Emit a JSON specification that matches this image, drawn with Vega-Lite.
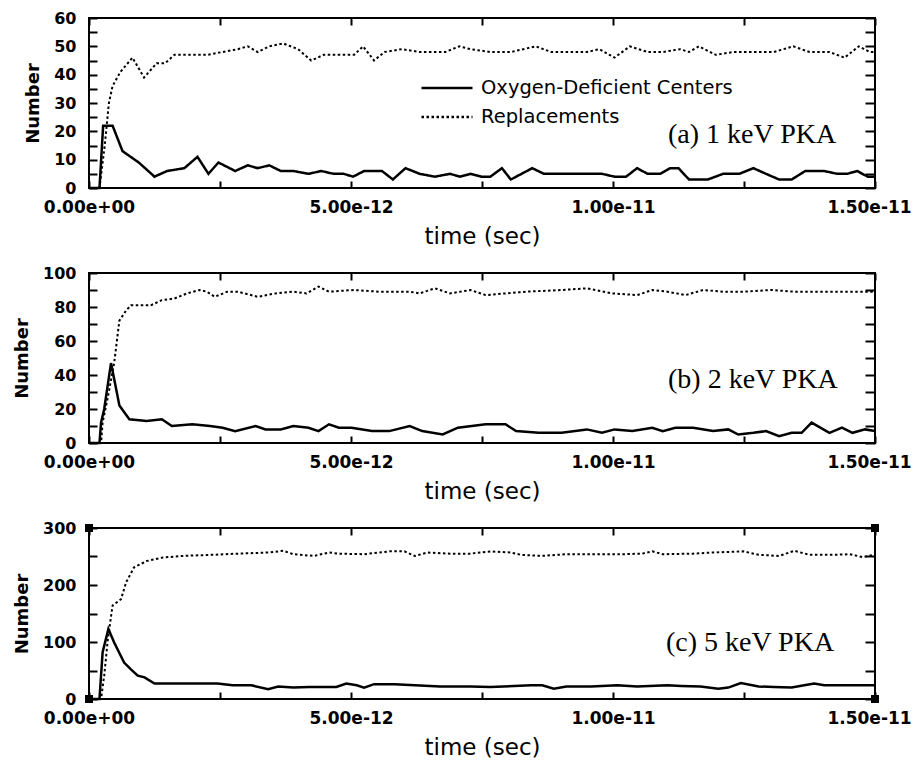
{
  "$schema": "https://vega.github.io/schema/vega-lite/v6.json",
  "background": "white",
  "padding": {"left": 12, "top": 9, "right": 0, "bottom": 10},
  "bounds": "flush",
  "spacing": 85,
  "datasets": {
    "p1odc": [
      {"t":0,"number":0},{"t":0.2,"number":0},{"t":0.27,"number":22},{"t":0.45,"number":22},{"t":0.64,"number":13},{"t":0.95,"number":9},{"t":1.25,"number":4},{"t":1.49,"number":6},{"t":1.82,"number":7},{"t":2.07,"number":11},{"t":2.28,"number":5},{"t":2.47,"number":9},{"t":2.79,"number":6},{"t":3.03,"number":8},{"t":3.22,"number":7},{"t":3.44,"number":8},{"t":3.66,"number":6},{"t":3.9,"number":6},{"t":4.19,"number":5},{"t":4.43,"number":6},{"t":4.67,"number":5},{"t":4.86,"number":5},{"t":5.04,"number":4},{"t":5.25,"number":6},{"t":5.59,"number":6},{"t":5.8,"number":3},{"t":6.04,"number":7},{"t":6.31,"number":5},{"t":6.6,"number":4},{"t":6.89,"number":5},{"t":7.08,"number":4},{"t":7.28,"number":5},{"t":7.49,"number":4},{"t":7.66,"number":4},{"t":7.88,"number":7},{"t":8.05,"number":3},{"t":8.46,"number":7},{"t":8.68,"number":5},{"t":8.97,"number":5},{"t":9.31,"number":5},{"t":9.59,"number":5},{"t":9.79,"number":5},{"t":10.03,"number":4},{"t":10.25,"number":4},{"t":10.46,"number":7},{"t":10.66,"number":5},{"t":10.9,"number":5},{"t":11.09,"number":7},{"t":11.25,"number":7},{"t":11.45,"number":3},{"t":11.81,"number":3},{"t":12.1,"number":5},{"t":12.41,"number":5},{"t":12.68,"number":7},{"t":12.92,"number":5},{"t":13.17,"number":3},{"t":13.41,"number":3},{"t":13.67,"number":6},{"t":13.84,"number":6},{"t":14.03,"number":6},{"t":14.28,"number":5},{"t":14.47,"number":5},{"t":14.66,"number":6},{"t":14.86,"number":4},{"t":15,"number":4}
    ],
    "p1rep": [
      {"t":0,"number":0},{"t":0.2,"number":0},{"t":0.3,"number":15},{"t":0.38,"number":30},{"t":0.45,"number":36},{"t":0.6,"number":41},{"t":0.83,"number":46},{"t":1.05,"number":39},{"t":1.29,"number":44},{"t":1.45,"number":44},{"t":1.63,"number":47},{"t":2.26,"number":47},{"t":2.55,"number":48},{"t":2.84,"number":49},{"t":3.03,"number":50},{"t":3.22,"number":48},{"t":3.44,"number":50},{"t":3.71,"number":51},{"t":3.99,"number":49},{"t":4.24,"number":45},{"t":4.48,"number":47},{"t":4.86,"number":47},{"t":5.06,"number":47},{"t":5.23,"number":50},{"t":5.44,"number":45},{"t":5.64,"number":48},{"t":5.97,"number":49},{"t":6.31,"number":48},{"t":6.8,"number":48},{"t":7.07,"number":50},{"t":7.28,"number":49},{"t":7.66,"number":48},{"t":8.05,"number":48},{"t":8.53,"number":50},{"t":8.82,"number":48},{"t":9.5,"number":48},{"t":9.74,"number":49},{"t":10.03,"number":46},{"t":10.32,"number":50},{"t":10.66,"number":48},{"t":10.95,"number":48},{"t":11.28,"number":49},{"t":11.45,"number":48},{"t":11.64,"number":50},{"t":11.96,"number":47},{"t":12.3,"number":48},{"t":12.59,"number":48},{"t":13.07,"number":48},{"t":13.44,"number":50},{"t":13.75,"number":48},{"t":14.13,"number":48},{"t":14.42,"number":46},{"t":14.69,"number":50},{"t":14.9,"number":48},{"t":15,"number":48}
    ],
    "p2odc": [
      {"t":0,"number":0},{"t":0.2,"number":0},{"t":0.23,"number":12},{"t":0.29,"number":20},{"t":0.42,"number":47},{"t":0.58,"number":22},{"t":0.77,"number":14},{"t":1.1,"number":13},{"t":1.39,"number":14},{"t":1.58,"number":10},{"t":1.97,"number":11},{"t":2.31,"number":10},{"t":2.55,"number":9},{"t":2.79,"number":7},{"t":3.18,"number":10},{"t":3.37,"number":8},{"t":3.66,"number":8},{"t":3.9,"number":10},{"t":4.19,"number":9},{"t":4.38,"number":7},{"t":4.58,"number":11},{"t":4.77,"number":9},{"t":5.01,"number":9},{"t":5.4,"number":7},{"t":5.73,"number":7},{"t":6.12,"number":10},{"t":6.36,"number":7},{"t":6.75,"number":5},{"t":7.04,"number":9},{"t":7.57,"number":11},{"t":7.95,"number":11},{"t":8.15,"number":7},{"t":8.58,"number":6},{"t":9.02,"number":6},{"t":9.5,"number":8},{"t":9.79,"number":6},{"t":10.03,"number":8},{"t":10.37,"number":7},{"t":10.75,"number":9},{"t":10.95,"number":7},{"t":11.19,"number":9},{"t":11.53,"number":9},{"t":11.91,"number":7},{"t":12.2,"number":8},{"t":12.39,"number":5},{"t":12.68,"number":6},{"t":12.92,"number":7},{"t":13.17,"number":4},{"t":13.41,"number":6},{"t":13.6,"number":6},{"t":13.79,"number":12},{"t":14.13,"number":6},{"t":14.37,"number":9},{"t":14.57,"number":6},{"t":14.81,"number":8},{"t":15,"number":7}
    ],
    "p2rep": [
      {"t":0,"number":0},{"t":0.23,"number":0},{"t":0.26,"number":12},{"t":0.36,"number":27},{"t":0.48,"number":47},{"t":0.58,"number":72},{"t":0.71,"number":78},{"t":0.8,"number":81},{"t":1.18,"number":81},{"t":1.39,"number":84},{"t":1.63,"number":85},{"t":1.87,"number":88},{"t":2.11,"number":90},{"t":2.25,"number":89},{"t":2.4,"number":86},{"t":2.64,"number":89},{"t":2.84,"number":89},{"t":3.22,"number":86},{"t":3.56,"number":88},{"t":3.9,"number":89},{"t":4.15,"number":88},{"t":4.38,"number":92},{"t":4.58,"number":89},{"t":5.06,"number":90},{"t":5.54,"number":89},{"t":6.12,"number":89},{"t":6.31,"number":88},{"t":6.6,"number":91},{"t":6.89,"number":88},{"t":7.28,"number":90},{"t":7.57,"number":87},{"t":7.95,"number":88},{"t":8.34,"number":89},{"t":9.02,"number":90},{"t":9.5,"number":91},{"t":9.98,"number":88},{"t":10.46,"number":87},{"t":10.75,"number":90},{"t":11.04,"number":89},{"t":11.38,"number":87},{"t":11.72,"number":90},{"t":12.1,"number":89},{"t":12.49,"number":89},{"t":13.02,"number":90},{"t":13.46,"number":89},{"t":13.94,"number":89},{"t":15,"number":89}
    ],
    "p3odc": [
      {"t":0,"number":0},{"t":0.2,"number":0},{"t":0.26,"number":82},{"t":0.37,"number":123},{"t":0.48,"number":99},{"t":0.67,"number":64},{"t":0.8,"number":52},{"t":0.93,"number":41},{"t":1.06,"number":38},{"t":1.25,"number":27},{"t":1.87,"number":27},{"t":2.45,"number":27},{"t":2.74,"number":24},{"t":3.1,"number":24},{"t":3.42,"number":17},{"t":3.61,"number":22},{"t":3.9,"number":20},{"t":4.2,"number":21},{"t":4.72,"number":21},{"t":4.91,"number":27},{"t":5.11,"number":24},{"t":5.25,"number":20},{"t":5.44,"number":26},{"t":5.83,"number":26},{"t":6.22,"number":24},{"t":6.7,"number":22},{"t":7.28,"number":22},{"t":7.66,"number":21},{"t":8.44,"number":24},{"t":8.65,"number":24},{"t":8.87,"number":18},{"t":9.11,"number":22},{"t":9.59,"number":22},{"t":10.08,"number":24},{"t":10.46,"number":22},{"t":11.04,"number":24},{"t":11.3,"number":23},{"t":11.67,"number":22},{"t":12.01,"number":18},{"t":12.2,"number":20},{"t":12.44,"number":28},{"t":12.78,"number":22},{"t":13.07,"number":21},{"t":13.41,"number":20},{"t":13.65,"number":24},{"t":13.84,"number":27},{"t":14.03,"number":24},{"t":14.32,"number":24},{"t":15,"number":24}
    ],
    "p3rep": [
      {"t":0,"number":0},{"t":0.23,"number":0},{"t":0.29,"number":41},{"t":0.36,"number":105},{"t":0.45,"number":164},{"t":0.61,"number":175},{"t":0.71,"number":205},{"t":0.86,"number":231},{"t":1.1,"number":242},{"t":1.39,"number":248},{"t":1.78,"number":251},{"t":2.36,"number":253},{"t":2.84,"number":255},{"t":3.42,"number":257},{"t":3.71,"number":260},{"t":3.9,"number":254},{"t":4.29,"number":251},{"t":4.58,"number":257},{"t":4.77,"number":255},{"t":5.25,"number":254},{"t":5.73,"number":259},{"t":6.02,"number":259},{"t":6.22,"number":251},{"t":6.46,"number":257},{"t":6.89,"number":255},{"t":7.28,"number":255},{"t":7.66,"number":259},{"t":8.05,"number":257},{"t":8.24,"number":253},{"t":8.63,"number":251},{"t":9.11,"number":254},{"t":9.59,"number":254},{"t":10.17,"number":254},{"t":10.56,"number":255},{"t":10.75,"number":259},{"t":10.95,"number":254},{"t":11.52,"number":255},{"t":11.91,"number":257},{"t":12.49,"number":259},{"t":12.78,"number":253},{"t":13.17,"number":251},{"t":13.46,"number":260},{"t":13.75,"number":253},{"t":14.23,"number":253},{"t":14.52,"number":254},{"t":14.76,"number":249},{"t":15,"number":253}
    ],
    "corners": [
      {"t":0,"number":0},{"t":0,"number":300},{"t":15,"number":300},{"t":15,"number":0}
    ]
  },
  "vconcat": [
    {
      "width": 786, "height": 170,
      "layer": [
        {
          "data": {"name": "p1odc"},
          "mark": {"type": "line", "color": "black", "strokeWidth": 2.5},
          "encoding": {
            "x": {"field": "t", "type": "quantitative", "scale": {"domain": [0, 15], "nice": false},
              "axis": {"orient": "bottom", "values": [0, 2.5, 5, 7.5, 10, 12.5, 15], "domain": false, "offset": -7, "tickSize": 7, "labelPadding": 11, "labelFlush": false, "labelOverlap": false,
                "labelOffset": {"condition": {"test": "datum.value == 15", "value": -6}, "value": 0},
                "labelExpr": "datum.value % 5 == 0 ? (datum.value == 0 ? '0.00e+00' : format(datum.value * 1e-12, '.2e')) : ''",
                "title": "time (sec)", "titleFontSize": 23, "titleFontWeight": "normal", "titlePadding": 10}},
            "y": {"field": "number", "type": "quantitative", "scale": {"domain": [0, 60], "nice": false},
              "axis": {"orient": "left", "values": [0,5,10,15,20,25,30,35,40,45,50,55,60], "domain": false, "offset": -8, "tickSize": 8, "labelPadding": 13, "labelOverlap": false, "labelFontSize": 16,
                "labelExpr": "datum.value % 10 == 0 ? datum.label : ''",
                "title": "Number", "titleFontSize": 18, "titleFontWeight": "bold", "titlePadding": 11}},
            "strokeDash": {"datum": "Oxygen-Deficient Centers", "type": "nominal",
              "scale": {"domain": ["Oxygen-Deficient Centers", "Replacements"], "range": [[1, 0], [2.5, 2.5]]},
              "legend": {"orient": "none", "legendX": 331, "legendY": 60, "title": null, "symbolType": "stroke", "symbolSize": 2601, "symbolStrokeWidth": 2.5, "symbolStrokeColor": "black", "clipHeight": 20, "rowPadding": 9, "labelFont": "DejaVu Sans", "labelFontSize": 19.5, "labelFontWeight": "normal", "labelColor": "black", "labelOffset": 7, "labelLimit": 0, "padding": 0}}
          }
        },
        {
          "data": {"name": "p1rep"},
          "mark": {"type": "line", "color": "black", "strokeWidth": 2},
          "encoding": {
            "x": {"field": "t", "type": "quantitative", "axis": {"orient": "top", "values": [0, 2.5, 5, 7.5, 10, 12.5, 15], "domain": false, "offset": -7, "tickSize": 7, "labels": false, "title": null}},
            "y": {"field": "number", "type": "quantitative", "axis": {"orient": "right", "values": [0,5,10,15,20,25,30,35,40,45,50,55,60], "domain": false, "offset": -10, "tickSize": 10, "labels": false, "title": null}},
            "strokeDash": {"datum": "Replacements", "type": "nominal"}
          }
        },
        {
          "data": {"values": [{"label": "(a) 1 keV PKA"}]},
          "mark": {"type": "text", "font": "Liberation Serif", "fontSize": 28, "align": "right", "baseline": "alphabetic", "color": "black"},
          "encoding": {
            "x": {"datum": 14.26, "type": "quantitative", "axis": null},
            "y": {"datum": 15.9, "type": "quantitative", "axis": null},
            "text": {"field": "label"}
          }
        }
      ],
      "resolve": {"axis": {"x": "independent", "y": "independent"}}
    },
    {
      "width": 786, "height": 170,
      "layer": [
        {
          "data": {"name": "p2odc"},
          "mark": {"type": "line", "color": "black", "strokeWidth": 2.5},
          "encoding": {
            "x": {"field": "t", "type": "quantitative", "scale": {"domain": [0, 15], "nice": false},
              "axis": {"orient": "bottom", "values": [0, 2.5, 5, 7.5, 10, 12.5, 15], "domain": false, "offset": -7, "tickSize": 7, "labelPadding": 11, "labelFlush": false, "labelOverlap": false,
                "labelOffset": {"condition": {"test": "datum.value == 15", "value": -6}, "value": 0},
                "labelExpr": "datum.value % 5 == 0 ? (datum.value == 0 ? '0.00e+00' : format(datum.value * 1e-12, '.2e')) : ''",
                "title": "time (sec)", "titleFontSize": 23, "titleFontWeight": "normal", "titlePadding": 10}},
            "y": {"field": "number", "type": "quantitative", "scale": {"domain": [0, 100], "nice": false},
              "axis": {"orient": "left", "values": [0,10,20,30,40,50,60,70,80,90,100], "domain": false, "offset": -8, "tickSize": 8, "labelPadding": 13, "labelOverlap": false, "labelFontSize": 16,
                "labelExpr": "datum.value % 20 == 0 ? datum.label : ''",
                "title": "Number", "titleFontSize": 18, "titleFontWeight": "bold", "titlePadding": 11}}
          }
        },
        {
          "data": {"name": "p2rep"},
          "mark": {"type": "line", "color": "black", "strokeWidth": 2, "strokeDash": [2.5, 2.5]},
          "encoding": {
            "x": {"field": "t", "type": "quantitative", "axis": {"orient": "top", "values": [0, 2.5, 5, 7.5, 10, 12.5, 15], "domain": false, "offset": -7, "tickSize": 7, "labels": false, "title": null}},
            "y": {"field": "number", "type": "quantitative", "axis": {"orient": "right", "values": [0,10,20,30,40,50,60,70,80,90,100], "domain": false, "offset": -10, "tickSize": 10, "labels": false, "title": null}}
          }
        },
        {
          "data": {"values": [{"label": "(b) 2 keV PKA"}]},
          "mark": {"type": "text", "font": "Liberation Serif", "fontSize": 28, "align": "right", "baseline": "alphabetic", "color": "black"},
          "encoding": {
            "x": {"datum": 14.29, "type": "quantitative", "axis": null},
            "y": {"datum": 32.4, "type": "quantitative", "axis": null},
            "text": {"field": "label"}
          }
        }
      ],
      "resolve": {"axis": {"x": "independent", "y": "independent"}}
    },
    {
      "width": 786, "height": 171,
      "layer": [
        {
          "data": {"name": "p3odc"},
          "mark": {"type": "line", "color": "black", "strokeWidth": 2.5},
          "encoding": {
            "x": {"field": "t", "type": "quantitative", "scale": {"domain": [0, 15], "nice": false},
              "axis": {"orient": "bottom", "values": [0, 2.5, 5, 7.5, 10, 12.5, 15], "domain": false, "offset": -7, "tickSize": 7, "labelPadding": 11, "labelFlush": false, "labelOverlap": false,
                "labelOffset": {"condition": {"test": "datum.value == 15", "value": -6}, "value": 0},
                "labelExpr": "datum.value % 5 == 0 ? (datum.value == 0 ? '0.00e+00' : format(datum.value * 1e-12, '.2e')) : ''",
                "title": "time (sec)", "titleFontSize": 23, "titleFontWeight": "normal", "titlePadding": 10}},
            "y": {"field": "number", "type": "quantitative", "scale": {"domain": [0, 300], "nice": false},
              "axis": {"orient": "left", "values": [0,50,100,150,200,250,300], "domain": false, "offset": -8, "tickSize": 8, "labelPadding": 13, "labelOverlap": false, "labelFontSize": 16,
                "labelExpr": "datum.value % 100 == 0 ? datum.label : ''",
                "title": "Number", "titleFontSize": 18, "titleFontWeight": "bold", "titlePadding": 11}}
          }
        },
        {
          "data": {"name": "p3rep"},
          "mark": {"type": "line", "color": "black", "strokeWidth": 2, "strokeDash": [2.5, 2.5]},
          "encoding": {
            "x": {"field": "t", "type": "quantitative", "axis": {"orient": "top", "values": [0, 2.5, 5, 7.5, 10, 12.5, 15], "domain": false, "offset": -7, "tickSize": 7, "labels": false, "title": null}},
            "y": {"field": "number", "type": "quantitative", "axis": {"orient": "right", "values": [0,50,100,150,200,250,300], "domain": false, "offset": -10, "tickSize": 10, "labels": false, "title": null}}
          }
        },
        {
          "data": {"name": "corners"},
          "mark": {"type": "point", "shape": "square", "filled": true, "color": "black", "size": 64, "opacity": 1},
          "encoding": {
            "x": {"field": "t", "type": "quantitative", "axis": null},
            "y": {"field": "number", "type": "quantitative", "axis": null}
          }
        },
        {
          "data": {"values": [{"label": "(c) 5 keV PKA"}]},
          "mark": {"type": "text", "font": "Liberation Serif", "fontSize": 28, "align": "right", "baseline": "alphabetic", "color": "black"},
          "encoding": {
            "x": {"datum": 14.22, "type": "quantitative", "axis": null},
            "y": {"datum": 84.2, "type": "quantitative", "axis": null},
            "text": {"field": "label"}
          }
        }
      ],
      "resolve": {"axis": {"x": "independent", "y": "independent"}}
    }
  ],
  "resolve": {"scale": {"strokeDash": "independent"}, "legend": {"strokeDash": "independent"}},
  "config": {
    "view": {"stroke": "black", "strokeWidth": 2},
    "axis": {
      "grid": false, "domainColor": "black", "domainWidth": 2, "ticks": true, "tickColor": "black", "tickWidth": 2, "tickOpacity": 1,
      "labelFont": "DejaVu Sans", "labelFontWeight": "bold", "labelFontSize": 17, "labelColor": "black",
      "titleFont": "DejaVu Sans", "titleColor": "black"
    }
  }
}
